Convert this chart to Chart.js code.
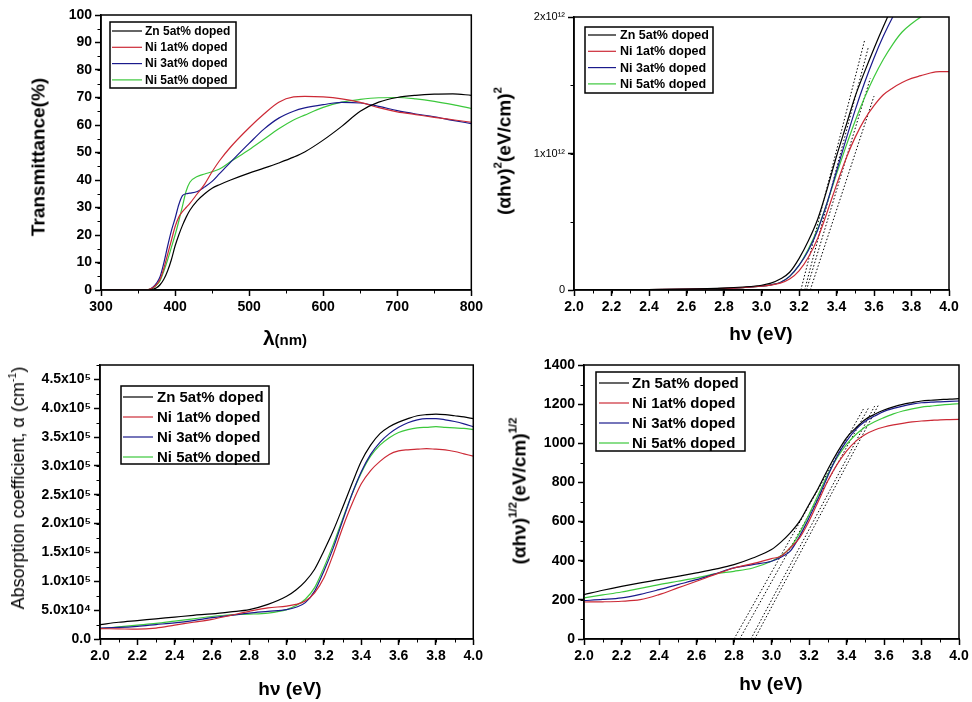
<!DOCTYPE html>
<html>
<head>
<meta charset="utf-8">
<script src="https://cdn.jsdelivr.net/npm/chart.js@4.4.1/dist/chart.umd.min.js"></script>
<style>
  body { margin: 0; background: #fff; }
  #wrap { position: relative; width: 972px; height: 702px; overflow: hidden; font-family: Arial, "Liberation Sans", sans-serif; color: #000; }
  canvas { position: absolute; }
  .t { position: absolute; white-space: nowrap; transform: translate(-50%, -50%); font-weight: bold; font-size: 19px; line-height: 1; }
  .yt { transform: translate(-50%, -50%) rotate(-90deg); }
  sup { font-size: 0.6em; vertical-align: 0.75em; line-height: 0; }
</style>
</head>
<body>
<div id="wrap">
  <canvas id="c1" width="486" height="351" style="left:0;top:0"></canvas>
  <canvas id="c2" width="486" height="351" style="left:486px;top:0"></canvas>
  <canvas id="c3" width="486" height="351" style="left:0;top:351px"></canvas>
  <canvas id="c4" width="486" height="351" style="left:486px;top:351px"></canvas>

  <div class="t yt" style="left:38px;top:157px">Transmittance(%)</div>
  <div class="t" style="left:285px;top:337px"><span style="font-size:21px">λ</span><span style="font-size:15px">(nm)</span></div>
  <div class="t yt" style="left:504px;top:151px">(αhν)<sup>2</sup>(eV/cm)<sup>2</sup></div>
  <div class="t" style="left:761px;top:333px">hν (eV)</div>
  <div class="t yt" style="left:18px;top:488px;font-weight:normal;font-size:18px">Absorption coefficient, α (cm<sup>-1</sup>)</div>
  <div class="t" style="left:290px;top:688px">hν (eV)</div>
  <div class="t yt" style="left:519px;top:491px">(αhν)<sup>1/2</sup>(eV/cm)<sup>1/2</sup></div>
  <div class="t" style="left:771px;top:683px">hν (eV)</div>
</div>
<script>
// ---- data ----
const seriesNames = ['Zn 5at% doped', 'Ni 1at% doped', 'Ni 3at% doped', 'Ni 5at% doped'];

// transmittance (%) vs wavelength (nm)
const wavelength = [300, 350, 360, 365, 370, 375, 380, 385, 390, 395, 400, 405, 410, 415, 420, 430, 440, 450, 460, 475, 500, 520, 540, 560, 575, 600, 625, 650, 675, 700, 725, 750, 775, 800];
const transZn5 = [0, 0, 0, 0, 0.3, 0.8, 2, 4, 7, 11, 16, 20, 23.5, 26.5, 29, 32.5, 35, 37, 38.3, 40, 42.5, 44.3, 46.2, 48.3, 50.2, 54.5, 59.5, 65, 68.3, 70, 70.8, 71.2, 71.3, 70.8];
const transNi1 = [0, 0, 0, 0.2, 0.8, 2, 4, 8, 13, 18, 23, 26.5, 28.5, 30, 31.5, 35, 38.5, 43, 47, 52, 59, 64, 68.3, 70.2, 70.4, 70.2, 69.5, 68.2, 66.3, 64.8, 63.8, 62.8, 61.9, 61];
const transNi3 = [0, 0, 0, 0.2, 1, 2.5, 5, 10, 16, 21.5, 26, 31, 34.3, 35, 35.2, 35.8, 37.5, 39.5, 42.3, 46.5, 53.3, 58.5, 62.5, 65, 66.2, 67.4, 68.2, 68, 66.8, 65.2, 64, 63, 61.7, 60.5];
const transNi5 = [0, 0, 0, 0.2, 0.7, 1.8, 3.5, 7, 11, 15.5, 20, 25, 30.5, 36, 39.2, 41.3, 42.2, 43, 44, 46.7, 51, 54.8, 58.6, 61.8, 63.6, 66.4, 68.3, 69.3, 69.9, 70, 69.5, 68.6, 67.4, 66];

// (αhν)^2 in units of 1e12 vs photon energy (eV)
const energySq = [2.4, 2.6, 2.8, 2.9, 3.0, 3.05, 3.1, 3.15, 3.2, 3.25, 3.3, 3.35, 3.4, 3.45, 3.5, 3.55, 3.6, 3.65, 3.7, 3.75, 3.8, 3.85, 3.9, 3.95, 4.0];
const sqZn5 = [0.003, 0.006, 0.014, 0.022, 0.035, 0.05, 0.08, 0.13, 0.23, 0.36, 0.52, 0.74, 0.98, 1.2, 1.42, 1.6, 1.77, 1.93, 2.08, 2.2, 2.3, 2.4, 2.48, 2.55, 2.6];
const sqNi1 = [0.003, 0.006, 0.012, 0.018, 0.028, 0.036, 0.05, 0.08, 0.14, 0.24, 0.38, 0.57, 0.77, 0.96, 1.12, 1.25, 1.35, 1.43, 1.48, 1.52, 1.55, 1.57, 1.59, 1.6, 1.6];
const sqNi3 = [0.003, 0.006, 0.012, 0.018, 0.028, 0.038, 0.055, 0.1, 0.18, 0.29, 0.44, 0.64, 0.87, 1.1, 1.32, 1.52, 1.7, 1.86, 2.0, 2.12, 2.22, 2.3, 2.37, 2.42, 2.46];
const sqNi5 = [0.003, 0.006, 0.012, 0.018, 0.028, 0.038, 0.055, 0.1, 0.18, 0.3, 0.45, 0.64, 0.85, 1.05, 1.24, 1.41, 1.56, 1.69, 1.8, 1.89, 1.95, 2.0, 2.04, 2.07, 2.1];
// dotted linear fits: [x0, x1], [y0, y1]
const sqFitX = [[3.21, 3.55], [3.23, 3.57], [3.24, 3.58], [3.26, 3.60]];
const sqFitY = [[0, 1.83], [0, 1.78], [0, 1.55], [0, 1.42]];

// absorption coefficient in units of 1e5 cm^-1, and (αhν)^1/2 vs photon energy (eV)
const energy = [2.0, 2.1, 2.2, 2.3, 2.4, 2.5, 2.6, 2.7, 2.8, 2.9, 3.0, 3.05, 3.1, 3.15, 3.2, 3.25, 3.3, 3.35, 3.4, 3.45, 3.5, 3.55, 3.6, 3.65, 3.7, 3.75, 3.8, 3.85, 3.9, 3.95, 4.0];
const alphaZn5 = [0.25, 0.29, 0.32, 0.35, 0.38, 0.41, 0.435, 0.47, 0.51, 0.6, 0.74, 0.85, 1.0, 1.21, 1.53, 1.88, 2.28, 2.69, 3.08, 3.36, 3.56, 3.68, 3.76, 3.82, 3.87, 3.89, 3.9, 3.89, 3.87, 3.85, 3.82];
const alphaNi1 = [0.18, 0.175, 0.17, 0.19, 0.24, 0.29, 0.34, 0.41, 0.48, 0.54, 0.57, 0.6, 0.66, 0.8, 1.06, 1.47, 1.93, 2.34, 2.69, 2.92, 3.08, 3.2, 3.26, 3.28, 3.29, 3.3, 3.29, 3.28, 3.25, 3.21, 3.17];
const alphaNi3 = [0.19, 0.2, 0.22, 0.25, 0.28, 0.32, 0.37, 0.41, 0.45, 0.48, 0.51, 0.55, 0.63, 0.83, 1.18, 1.58, 2.05, 2.51, 2.9, 3.2, 3.41, 3.56, 3.67, 3.75, 3.8, 3.82, 3.82, 3.8, 3.77, 3.73, 3.68];
const alphaNi5 = [0.18, 0.21, 0.24, 0.27, 0.31, 0.35, 0.39, 0.42, 0.43, 0.45, 0.51, 0.58, 0.69, 0.89, 1.24, 1.64, 2.08, 2.51, 2.88, 3.17, 3.36, 3.49, 3.58, 3.63, 3.66, 3.67, 3.68, 3.67, 3.66, 3.65, 3.63];

const rootZn5 = [227, 249, 269, 287, 303, 320, 338, 357, 380, 414, 457, 495, 542, 602, 687, 772, 866, 952, 1028, 1079, 1122, 1148, 1170, 1186, 1199, 1208, 1216, 1220, 1223, 1226, 1228];
const rootNi1 = [189, 190, 193, 201, 227, 261, 295, 330, 363, 385, 411, 423, 466, 517, 602, 704, 807, 892, 960, 1011, 1045, 1068, 1083, 1094, 1102, 1109, 1114, 1117, 1120, 1121, 1122];
const rootNi3 = [196, 202, 210, 228, 252, 278, 303, 333, 363, 380, 397, 418, 449, 525, 619, 721, 832, 934, 1011, 1071, 1113, 1139, 1163, 1178, 1190, 1200, 1207, 1210, 1212, 1214, 1216];
const rootNi5 = [210, 225, 240, 259, 278, 295, 312, 333, 346, 363, 397, 425, 466, 542, 636, 738, 841, 926, 994, 1045, 1083, 1110, 1131, 1150, 1165, 1176, 1185, 1190, 1195, 1199, 1202];
const rootFitX = [[2.80, 3.49], [2.83, 3.52], [2.89, 3.55], [2.91, 3.57]];
const rootFitY = [[0, 1175], [0, 1185], [0, 1190], [0, 1195]];

// ---- drawing ----
const FONT = 'Arial, "Liberation Sans", sans-serif';
Chart.defaults.font.family = FONT;
Chart.defaults.color = '#000';
Chart.defaults.animation = false;

const colors = ['#000000', '#cc2a36', '#1a1a8c', '#3cc83c'];

function xy(xs, ys) {
  return xs.map((x, i) => ({ x: x, y: ys[i] }));
}

function curves(xs, list) {
  return list.map((ys, i) => ({
    label: seriesNames[i],
    data: xy(xs, ys),
    borderColor: colors[i],
    borderWidth: 1.2,
    pointRadius: 0,
    cubicInterpolationMode: 'monotone'
  }));
}

function fits(fx, fy) {
  return fx.map((xs, i) => ({
    label: '',
    fit: true,
    data: xy(xs, fy[i]),
    borderColor: '#000',
    borderWidth: 1,
    borderDash: [1.5, 2],
    pointRadius: 0
  }));
}

const framePlugin = {
  id: 'frame',
  afterDraw(chart, args, o) {
    const { ctx, chartArea: a } = chart;
    const sx = chart.scales.x, sy = chart.scales.y;
    ctx.save();
    ctx.strokeStyle = '#000';
    ctx.lineWidth = 1;
    ctx.beginPath();
    for (let k = 0; ; k++) {
      const v = sx.min + k * o.xMinor;
      if (v > sx.max + 1e-9) break;
      const p = Math.round(sx.getPixelForValue(v)) + 0.5;
      ctx.moveTo(p, a.bottom);
      ctx.lineTo(p, a.bottom + 3.5);
    }
    for (let k = 0; ; k++) {
      const v = sy.min + k * o.yMinor;
      if (v > sy.max + 1e-9) break;
      const p = Math.round(sy.getPixelForValue(v)) + 0.5;
      ctx.moveTo(a.left, p);
      ctx.lineTo(a.left - 3.5, p);
    }
    ctx.stroke();
    ctx.lineWidth = 1.5;
    ctx.strokeRect(a.left, a.top, a.right - a.left, a.bottom - a.top);
    ctx.restore();
  }
};

const boxLegend = {
  id: 'boxLegend',
  afterDraw(chart, args, o) {
    const ctx = chart.ctx;
    ctx.save();
    ctx.fillStyle = '#fff';
    ctx.fillRect(o.left, o.top, o.width, o.height);
    ctx.strokeStyle = '#000';
    ctx.lineWidth = 1.5;
    ctx.strokeRect(o.left, o.top, o.width, o.height);
    ctx.font = 'bold ' + o.size + 'px ' + FONT;
    ctx.textBaseline = 'middle';
    let row = 0;
    chart.data.datasets.forEach(ds => {
      if (ds.fit) return;
      const y = o.top + o.first + row * o.step;
      ctx.strokeStyle = ds.borderColor;
      ctx.lineWidth = 1.2;
      ctx.beginPath();
      ctx.moveTo(o.lineFrom, y);
      ctx.lineTo(o.lineTo, y);
      ctx.stroke();
      ctx.fillStyle = '#000';
      ctx.fillText(ds.label, o.textX, y + 0.5);
      row++;
    });
    ctx.restore();
  }
};

function axis(min, max, step, size, fit) {
  return {
    type: 'linear',
    min: min,
    max: max,
    ticks: { stepSize: step, includeBounds: false, font: { size: size, weight: 'bold' }, padding: 3, maxRotation: 0, autoSkip: false, callback: v => String(v) },
    grid: { drawOnChartArea: false, tickLength: 6, tickColor: '#000', tickWidth: 1.5 },
    border: { color: '#000', width: 1.5 },
    afterFit: fit
  };
}

function makeChart(id, datasets, scales, pad, minor, legend) {
  return new Chart(document.getElementById(id), {
    type: 'line',
    data: { datasets: datasets },
    options: {
      responsive: false,
      devicePixelRatio: 1,
      layout: { padding: pad },
      scales: scales,
      plugins: {
        legend: { display: false },
        tooltip: { enabled: false },
        frame: minor,
        boxLegend: legend
      }
    },
    plugins: [framePlugin, boxLegend]
  });
}

// top-left: transmittance
makeChart('c1',
  curves(wavelength, [transZn5, transNi1, transNi3, transNi5]),
  {
    x: axis(300, 800, 100, 14, s => { s.height = 61; }),
    y: axis(0, 100, 10, 14, s => { s.width = 101; })
  },
  { top: 15, right: 14, left: 0, bottom: 0 },
  { xMinor: 50, yMinor: 5 },
  { left: 110, top: 22, width: 126, height: 66, first: 9, step: 16.3, lineFrom: 112, lineTo: 142, textX: 145, size: 12 }
);

// top-right: (αhν)^2
const c2y = axis(0, 2, 1, 11, s => { s.width = 88; });
c2y.ticks.font = { size: 11, weight: 'normal' };
c2y.ticks.callback = v => v === 0 ? '0' : v + 'x10¹²';
const c2x = axis(2, 4, 0.2, 14, s => { s.height = 61; });
c2x.ticks.callback = v => v.toFixed(1);
makeChart('c2',
  curves(energySq, [sqZn5, sqNi1, sqNi3, sqNi5]).concat(fits(sqFitX, sqFitY)),
  { x: c2x, y: c2y },
  { top: 17, right: 23, left: 0, bottom: 0 },
  { xMinor: 0.1, yMinor: 0.5 },
  { left: 99, top: 27, width: 128, height: 66, first: 8, step: 16.3, lineFrom: 102, lineTo: 130, textX: 134, size: 12.5 }
);

// bottom-left: absorption coefficient
const c3y = axis(0, 4.75, 0.5, 14, s => { s.width = 100; });
c3y.ticks.callback = v => {
  if (v === 0) return '0.0';
  if (v < 1) return (v * 10).toFixed(1) + 'x10⁴';
  return v.toFixed(1) + 'x10⁵';
};
const c3x = axis(2, 4, 0.2, 14, s => { s.height = 63; });
c3x.ticks.callback = v => v.toFixed(1);
makeChart('c3',
  curves(energy, [alphaZn5, alphaNi1, alphaNi3, alphaNi5]),
  { x: c3x, y: c3y },
  { top: 14, right: 11, left: 0, bottom: 0 },
  { xMinor: 0.1, yMinor: 0.25 },
  { left: 121, top: 35, width: 148, height: 78, first: 11, step: 20, lineFrom: 123, lineTo: 153, textX: 157, size: 15 }
);

// bottom-right: (αhν)^1/2
const c4x = axis(2, 4, 0.2, 14, s => { s.height = 63; });
c4x.ticks.callback = v => v.toFixed(1);
makeChart('c4',
  curves(energy, [rootZn5, rootNi1, rootNi3, rootNi5]).concat(fits(rootFitX, rootFitY)),
  { x: c4x, y: axis(0, 1400, 200, 14, s => { s.width = 98; }) },
  { top: 14, right: 13, left: 0, bottom: 0 },
  { xMinor: 0.1, yMinor: 100 },
  { left: 110, top: 21, width: 149, height: 79, first: 11, step: 20, lineFrom: 113, lineTo: 143, textX: 146, size: 15 }
);
</script>
</body>
</html>
